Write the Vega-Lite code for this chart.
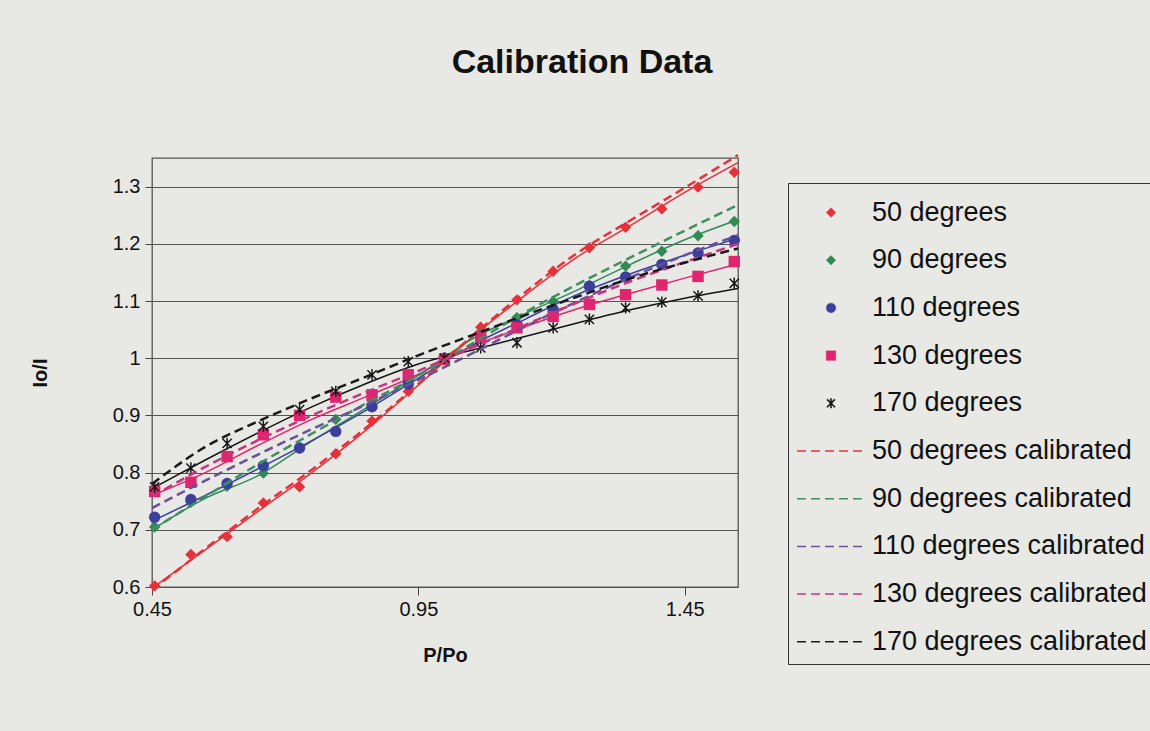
{
  "$schema": "https://vega.github.io/schema/vega-lite/v6.json",
  "width": 586,
  "height": 429,
  "autosize": {"type": "none"},
  "padding": {"left": 152, "top": 158, "right": 412, "bottom": 144},
  "background": "#e8e8e5",
  "title": {
    "text": "Calibration Data",
    "font": "Liberation Sans",
    "fontSize": 34,
    "fontWeight": "bold",
    "color": "#111111",
    "anchor": "middle",
    "dx": 137,
    "offset": 70
  },
  "config": {
    "view": {"stroke": "#555555", "strokeWidth": 1.3},
    "font": "Liberation Sans",
    "axis": {
      "labelFont": "Liberation Sans",
      "titleFont": "Liberation Sans",
      "labelColor": "#111111",
      "titleColor": "#111111",
      "labelFontSize": 20,
      "titleFontSize": 20,
      "titleFontWeight": "bold",
      "tickColor": "#444444",
      "domain": false
    },
    "legend": {
      "labelFont": "Liberation Sans",
      "labelFontSize": 27,
      "labelColor": "#111111",
      "titleFontSize": 2,
      "titlePadding": 5,
      "strokeColor": "#333333",
      "fillColor": "#e8e8e5",
      "padding": 9,
      "rowPadding": 19.7,
      "labelOffset": 7,
      "labelLimit": 600,
      "symbolStrokeWidth": 1.5
    }
  },
  "datasets": {
    "points": [
      {"series": "50 degrees", "P": 0.455, "IoI": 0.602},
      {"series": "50 degrees", "P": 0.523, "IoI": 0.657},
      {"series": "50 degrees", "P": 0.591, "IoI": 0.688},
      {"series": "50 degrees", "P": 0.659, "IoI": 0.747},
      {"series": "50 degrees", "P": 0.727, "IoI": 0.775},
      {"series": "50 degrees", "P": 0.795, "IoI": 0.833},
      {"series": "50 degrees", "P": 0.863, "IoI": 0.890},
      {"series": "50 degrees", "P": 0.931, "IoI": 0.942},
      {"series": "50 degrees", "P": 0.999, "IoI": 0.998},
      {"series": "50 degrees", "P": 1.067, "IoI": 1.054},
      {"series": "50 degrees", "P": 1.135, "IoI": 1.102},
      {"series": "50 degrees", "P": 1.203, "IoI": 1.152},
      {"series": "50 degrees", "P": 1.271, "IoI": 1.193},
      {"series": "50 degrees", "P": 1.339, "IoI": 1.229},
      {"series": "50 degrees", "P": 1.407, "IoI": 1.261},
      {"series": "50 degrees", "P": 1.475, "IoI": 1.299},
      {"series": "50 degrees", "P": 1.543, "IoI": 1.325},
      {"series": "90 degrees", "P": 0.455, "IoI": 0.705},
      {"series": "90 degrees", "P": 0.523, "IoI": 0.748},
      {"series": "90 degrees", "P": 0.591, "IoI": 0.776},
      {"series": "90 degrees", "P": 0.659, "IoI": 0.799},
      {"series": "90 degrees", "P": 0.727, "IoI": 0.843},
      {"series": "90 degrees", "P": 0.795, "IoI": 0.893},
      {"series": "90 degrees", "P": 0.863, "IoI": 0.925},
      {"series": "90 degrees", "P": 0.931, "IoI": 0.962},
      {"series": "90 degrees", "P": 0.999, "IoI": 1.0},
      {"series": "90 degrees", "P": 1.067, "IoI": 1.045},
      {"series": "90 degrees", "P": 1.135, "IoI": 1.071},
      {"series": "90 degrees", "P": 1.203, "IoI": 1.099},
      {"series": "90 degrees", "P": 1.271, "IoI": 1.127},
      {"series": "90 degrees", "P": 1.339, "IoI": 1.161},
      {"series": "90 degrees", "P": 1.407, "IoI": 1.187},
      {"series": "90 degrees", "P": 1.475, "IoI": 1.214},
      {"series": "90 degrees", "P": 1.543, "IoI": 1.239},
      {"series": "110 degrees", "P": 0.455, "IoI": 0.722},
      {"series": "110 degrees", "P": 0.523, "IoI": 0.753},
      {"series": "110 degrees", "P": 0.591, "IoI": 0.781},
      {"series": "110 degrees", "P": 0.659, "IoI": 0.812},
      {"series": "110 degrees", "P": 0.727, "IoI": 0.843},
      {"series": "110 degrees", "P": 0.795, "IoI": 0.872},
      {"series": "110 degrees", "P": 0.863, "IoI": 0.915},
      {"series": "110 degrees", "P": 0.931, "IoI": 0.955},
      {"series": "110 degrees", "P": 0.999, "IoI": 1.0},
      {"series": "110 degrees", "P": 1.067, "IoI": 1.038},
      {"series": "110 degrees", "P": 1.135, "IoI": 1.058},
      {"series": "110 degrees", "P": 1.203, "IoI": 1.085},
      {"series": "110 degrees", "P": 1.271, "IoI": 1.126},
      {"series": "110 degrees", "P": 1.339, "IoI": 1.142},
      {"series": "110 degrees", "P": 1.407, "IoI": 1.164},
      {"series": "110 degrees", "P": 1.475, "IoI": 1.184},
      {"series": "110 degrees", "P": 1.543, "IoI": 1.206},
      {"series": "130 degrees", "P": 0.455, "IoI": 0.767},
      {"series": "130 degrees", "P": 0.523, "IoI": 0.783},
      {"series": "130 degrees", "P": 0.591, "IoI": 0.828},
      {"series": "130 degrees", "P": 0.659, "IoI": 0.866},
      {"series": "130 degrees", "P": 0.727, "IoI": 0.900},
      {"series": "130 degrees", "P": 0.795, "IoI": 0.932},
      {"series": "130 degrees", "P": 0.863, "IoI": 0.936},
      {"series": "130 degrees", "P": 0.931, "IoI": 0.971},
      {"series": "130 degrees", "P": 0.999, "IoI": 0.998},
      {"series": "130 degrees", "P": 1.067, "IoI": 1.038},
      {"series": "130 degrees", "P": 1.135, "IoI": 1.053},
      {"series": "130 degrees", "P": 1.203, "IoI": 1.073},
      {"series": "130 degrees", "P": 1.271, "IoI": 1.094},
      {"series": "130 degrees", "P": 1.339, "IoI": 1.111},
      {"series": "130 degrees", "P": 1.407, "IoI": 1.128},
      {"series": "130 degrees", "P": 1.475, "IoI": 1.143},
      {"series": "130 degrees", "P": 1.543, "IoI": 1.169},
      {"series": "170 degrees", "P": 0.455, "IoI": 0.775},
      {"series": "170 degrees", "P": 0.523, "IoI": 0.808},
      {"series": "170 degrees", "P": 0.591, "IoI": 0.851},
      {"series": "170 degrees", "P": 0.659, "IoI": 0.881},
      {"series": "170 degrees", "P": 0.727, "IoI": 0.910},
      {"series": "170 degrees", "P": 0.795, "IoI": 0.942},
      {"series": "170 degrees", "P": 0.863, "IoI": 0.971},
      {"series": "170 degrees", "P": 0.931, "IoI": 0.994},
      {"series": "170 degrees", "P": 0.999, "IoI": 1.0},
      {"series": "170 degrees", "P": 1.067, "IoI": 1.018},
      {"series": "170 degrees", "P": 1.135, "IoI": 1.027},
      {"series": "170 degrees", "P": 1.203, "IoI": 1.053},
      {"series": "170 degrees", "P": 1.271, "IoI": 1.068},
      {"series": "170 degrees", "P": 1.339, "IoI": 1.088},
      {"series": "170 degrees", "P": 1.407, "IoI": 1.098},
      {"series": "170 degrees", "P": 1.475, "IoI": 1.109},
      {"series": "170 degrees", "P": 1.543, "IoI": 1.131}
    ],
    "fits": [
      {"series": "50 degrees", "P": 0.45, "IoI": 0.598},
      {"series": "50 degrees", "P": 0.55, "IoI": 0.665},
      {"series": "50 degrees", "P": 0.65, "IoI": 0.733},
      {"series": "50 degrees", "P": 0.75, "IoI": 0.800},
      {"series": "50 degrees", "P": 0.85, "IoI": 0.873},
      {"series": "50 degrees", "P": 0.95, "IoI": 0.953},
      {"series": "50 degrees", "P": 1.05, "IoI": 1.036},
      {"series": "50 degrees", "P": 1.15, "IoI": 1.110},
      {"series": "50 degrees", "P": 1.25, "IoI": 1.178},
      {"series": "50 degrees", "P": 1.35, "IoI": 1.233},
      {"series": "50 degrees", "P": 1.45, "IoI": 1.290},
      {"series": "50 degrees", "P": 1.55, "IoI": 1.342},
      {"series": "90 degrees", "P": 0.45, "IoI": 0.700},
      {"series": "90 degrees", "P": 0.55, "IoI": 0.755},
      {"series": "90 degrees", "P": 0.65, "IoI": 0.795},
      {"series": "90 degrees", "P": 0.75, "IoI": 0.855},
      {"series": "90 degrees", "P": 0.85, "IoI": 0.912},
      {"series": "90 degrees", "P": 0.95, "IoI": 0.970},
      {"series": "90 degrees", "P": 1.05, "IoI": 1.033},
      {"series": "90 degrees", "P": 1.15, "IoI": 1.078},
      {"series": "90 degrees", "P": 1.25, "IoI": 1.120},
      {"series": "90 degrees", "P": 1.35, "IoI": 1.165},
      {"series": "90 degrees", "P": 1.45, "IoI": 1.207},
      {"series": "90 degrees", "P": 1.55, "IoI": 1.242},
      {"series": "110 degrees", "P": 0.45, "IoI": 0.715},
      {"series": "110 degrees", "P": 0.55, "IoI": 0.760},
      {"series": "110 degrees", "P": 0.65, "IoI": 0.807},
      {"series": "110 degrees", "P": 0.75, "IoI": 0.856},
      {"series": "110 degrees", "P": 0.85, "IoI": 0.908},
      {"series": "110 degrees", "P": 0.95, "IoI": 0.965},
      {"series": "110 degrees", "P": 1.05, "IoI": 1.022},
      {"series": "110 degrees", "P": 1.15, "IoI": 1.068},
      {"series": "110 degrees", "P": 1.25, "IoI": 1.112},
      {"series": "110 degrees", "P": 1.35, "IoI": 1.148},
      {"series": "110 degrees", "P": 1.45, "IoI": 1.180},
      {"series": "110 degrees", "P": 1.55, "IoI": 1.210},
      {"series": "130 degrees", "P": 0.45, "IoI": 0.760},
      {"series": "130 degrees", "P": 0.55, "IoI": 0.800},
      {"series": "130 degrees", "P": 0.65, "IoI": 0.848},
      {"series": "130 degrees", "P": 0.75, "IoI": 0.893},
      {"series": "130 degrees", "P": 0.85, "IoI": 0.932},
      {"series": "130 degrees", "P": 0.95, "IoI": 0.972},
      {"series": "130 degrees", "P": 1.05, "IoI": 1.020},
      {"series": "130 degrees", "P": 1.15, "IoI": 1.055},
      {"series": "130 degrees", "P": 1.25, "IoI": 1.087},
      {"series": "130 degrees", "P": 1.35, "IoI": 1.114},
      {"series": "130 degrees", "P": 1.45, "IoI": 1.140},
      {"series": "130 degrees", "P": 1.55, "IoI": 1.165},
      {"series": "170 degrees", "P": 0.45, "IoI": 0.772},
      {"series": "170 degrees", "P": 0.55, "IoI": 0.822},
      {"series": "170 degrees", "P": 0.65, "IoI": 0.870},
      {"series": "170 degrees", "P": 0.75, "IoI": 0.915},
      {"series": "170 degrees", "P": 0.85, "IoI": 0.955},
      {"series": "170 degrees", "P": 0.95, "IoI": 0.990},
      {"series": "170 degrees", "P": 1.05, "IoI": 1.014},
      {"series": "170 degrees", "P": 1.15, "IoI": 1.038},
      {"series": "170 degrees", "P": 1.25, "IoI": 1.062},
      {"series": "170 degrees", "P": 1.35, "IoI": 1.085},
      {"series": "170 degrees", "P": 1.45, "IoI": 1.105},
      {"series": "170 degrees", "P": 1.55, "IoI": 1.122}
    ],
    "calibrated": [
      {"series": "50 degrees calibrated", "P": 0.45, "IoI": 0.595},
      {"series": "50 degrees calibrated", "P": 0.55, "IoI": 0.667},
      {"series": "50 degrees calibrated", "P": 0.65, "IoI": 0.738},
      {"series": "50 degrees calibrated", "P": 0.75, "IoI": 0.805},
      {"series": "50 degrees calibrated", "P": 0.85, "IoI": 0.877},
      {"series": "50 degrees calibrated", "P": 0.95, "IoI": 0.955},
      {"series": "50 degrees calibrated", "P": 1.05, "IoI": 1.038},
      {"series": "50 degrees calibrated", "P": 1.15, "IoI": 1.115},
      {"series": "50 degrees calibrated", "P": 1.25, "IoI": 1.185},
      {"series": "50 degrees calibrated", "P": 1.35, "IoI": 1.242},
      {"series": "50 degrees calibrated", "P": 1.45, "IoI": 1.298},
      {"series": "50 degrees calibrated", "P": 1.55, "IoI": 1.355},
      {"series": "90 degrees calibrated", "P": 0.45, "IoI": 0.700},
      {"series": "90 degrees calibrated", "P": 0.55, "IoI": 0.758},
      {"series": "90 degrees calibrated", "P": 0.65, "IoI": 0.815},
      {"series": "90 degrees calibrated", "P": 0.75, "IoI": 0.868},
      {"series": "90 degrees calibrated", "P": 0.85, "IoI": 0.920},
      {"series": "90 degrees calibrated", "P": 0.95, "IoI": 0.970},
      {"series": "90 degrees calibrated", "P": 1.05, "IoI": 1.025},
      {"series": "90 degrees calibrated", "P": 1.15, "IoI": 1.080},
      {"series": "90 degrees calibrated", "P": 1.25, "IoI": 1.130},
      {"series": "90 degrees calibrated", "P": 1.35, "IoI": 1.177},
      {"series": "90 degrees calibrated", "P": 1.45, "IoI": 1.223},
      {"series": "90 degrees calibrated", "P": 1.55, "IoI": 1.268},
      {"series": "110 degrees calibrated", "P": 0.45, "IoI": 0.738},
      {"series": "110 degrees calibrated", "P": 0.55, "IoI": 0.786},
      {"series": "110 degrees calibrated", "P": 0.65, "IoI": 0.832},
      {"series": "110 degrees calibrated", "P": 0.75, "IoI": 0.876},
      {"series": "110 degrees calibrated", "P": 0.85, "IoI": 0.918},
      {"series": "110 degrees calibrated", "P": 0.95, "IoI": 0.962},
      {"series": "110 degrees calibrated", "P": 1.05, "IoI": 1.008},
      {"series": "110 degrees calibrated", "P": 1.15, "IoI": 1.055},
      {"series": "110 degrees calibrated", "P": 1.25, "IoI": 1.100},
      {"series": "110 degrees calibrated", "P": 1.35, "IoI": 1.142},
      {"series": "110 degrees calibrated", "P": 1.45, "IoI": 1.180},
      {"series": "110 degrees calibrated", "P": 1.55, "IoI": 1.215},
      {"series": "130 degrees calibrated", "P": 0.45, "IoI": 0.758},
      {"series": "130 degrees calibrated", "P": 0.55, "IoI": 0.810},
      {"series": "130 degrees calibrated", "P": 0.65, "IoI": 0.857},
      {"series": "130 degrees calibrated", "P": 0.75, "IoI": 0.900},
      {"series": "130 degrees calibrated", "P": 0.85, "IoI": 0.940},
      {"series": "130 degrees calibrated", "P": 0.95, "IoI": 0.978},
      {"series": "130 degrees calibrated", "P": 1.05, "IoI": 1.018},
      {"series": "130 degrees calibrated", "P": 1.15, "IoI": 1.058},
      {"series": "130 degrees calibrated", "P": 1.25, "IoI": 1.098},
      {"series": "130 degrees calibrated", "P": 1.35, "IoI": 1.135},
      {"series": "130 degrees calibrated", "P": 1.45, "IoI": 1.168},
      {"series": "130 degrees calibrated", "P": 1.55, "IoI": 1.200},
      {"series": "170 degrees calibrated", "P": 0.45, "IoI": 0.780},
      {"series": "170 degrees calibrated", "P": 0.55, "IoI": 0.845},
      {"series": "170 degrees calibrated", "P": 0.65, "IoI": 0.890},
      {"series": "170 degrees calibrated", "P": 0.75, "IoI": 0.930},
      {"series": "170 degrees calibrated", "P": 0.85, "IoI": 0.967},
      {"series": "170 degrees calibrated", "P": 0.95, "IoI": 1.005},
      {"series": "170 degrees calibrated", "P": 1.05, "IoI": 1.040},
      {"series": "170 degrees calibrated", "P": 1.15, "IoI": 1.075},
      {"series": "170 degrees calibrated", "P": 1.25, "IoI": 1.108},
      {"series": "170 degrees calibrated", "P": 1.35, "IoI": 1.140},
      {"series": "170 degrees calibrated", "P": 1.45, "IoI": 1.167},
      {"series": "170 degrees calibrated", "P": 1.55, "IoI": 1.192}
    ]
  },
  "encoding": {
    "x": {
      "field": "P",
      "type": "quantitative",
      "scale": {"domain": [0.45, 1.55], "nice": false, "zero": false},
      "axis": {
        "title": "P/Po",
        "values": [0.45, 0.95, 1.45],
        "format": ".2f",
        "grid": false,
        "labelFlush": false,
        "labelDx": 4,
        "tickSize": 8,
        "labelPadding": 4,
        "titlePadding": 26
      }
    },
    "y": {
      "field": "IoI",
      "type": "quantitative",
      "scale": {"domain": [0.6, 1.35], "nice": false, "zero": false},
      "axis": {
        "title": "Io/I",
        "values": [0.6, 0.7, 0.8, 0.9, 1.0, 1.1, 1.2, 1.3],
        "format": ".2~f",
        "grid": true,
        "gridColor": "#555555",
        "gridWidth": 1.2,
        "gridOpacity": 1,
        "tickSize": 7,
        "labelPadding": 5,
        "titlePadding": 62
      }
    }
  },
  "layer": [
    {
      "data": {"name": "fits"},
      "mark": {"type": "line", "strokeWidth": 1.5, "interpolate": "monotone"},
      "encoding": {
        "color": {
          "field": "series",
          "type": "nominal",
          "scale": {
            "domain": ["50 degrees", "90 degrees", "110 degrees", "130 degrees", "170 degrees", "50 degrees calibrated", "90 degrees calibrated", "110 degrees calibrated", "130 degrees calibrated", "170 degrees calibrated"],
            "range": ["#e8303a", "#2f8a55", "#3a3f9c", "#e0246e", "#151515", "#e8303a", "#3f9060", "#6a4f9a", "#c8357f", "#1a1a1a"]
          },
          "legend": {
            "orient": "none", "legendX": 636, "legendY": 25, "title": " ",
            "encode": {
              "symbols": {"update": {
                "x": {"value": 34},
                "fill": {"scale": "color", "field": "value"},
                "stroke": {"scale": "color", "field": "value"},
                "size": {"signal": "test(/calibrated/, datum.value) ? 4624 : 90"},
                "strokeWidth": {"signal": "test(/calibrated/, datum.value) ? 1.5 : 0.5"}
              }},
              "labels": {"update": {"x": {"value": 75}}}
            }
          }
        }
      }
    },
    {
      "data": {"name": "points"},
      "mark": {"type": "point", "filled": true, "size": 130, "opacity": 1},
      "encoding": {
        "color": {
          "field": "series",
          "type": "nominal",
          "legend": {
            "orient": "none", "legendX": 636, "legendY": 25, "title": " ",
            "encode": {
              "symbols": {"update": {
                "x": {"value": 34},
                "fill": {"scale": "color", "field": "value"},
                "stroke": {"scale": "color", "field": "value"},
                "size": {"signal": "test(/calibrated/, datum.value) ? 4624 : 90"},
                "strokeWidth": {"signal": "test(/calibrated/, datum.value) ? 1.5 : 0.5"}
              }},
              "labels": {"update": {"x": {"value": 75}}}
            }
          }
        },
        "shape": {
          "field": "series",
          "type": "nominal",
          "scale": {
            "domain": ["50 degrees", "90 degrees", "110 degrees", "130 degrees", "170 degrees", "50 degrees calibrated", "90 degrees calibrated", "110 degrees calibrated", "130 degrees calibrated", "170 degrees calibrated"],
            "range": ["diamond", "diamond", "circle", "square", "M-0.13,-1L0.13,-1L0.13,1L-0.13,1ZM-0.9,-0.72L-0.72,-0.9L0.9,0.72L0.72,0.9ZM0.72,-0.9L0.9,-0.72L-0.72,0.9L-0.9,0.72Z", "stroke", "stroke", "stroke", "stroke", "stroke"]
          },
          "legend": {
            "orient": "none", "legendX": 636, "legendY": 25, "title": " ",
            "encode": {
              "symbols": {"update": {
                "x": {"value": 34},
                "fill": {"scale": "color", "field": "value"},
                "stroke": {"scale": "color", "field": "value"},
                "size": {"signal": "test(/calibrated/, datum.value) ? 4624 : 90"},
                "strokeWidth": {"signal": "test(/calibrated/, datum.value) ? 1.5 : 0.5"}
              }},
              "labels": {"update": {"x": {"value": 75}}}
            }
          }
        }
      }
    },
    {
      "data": {"name": "calibrated"},
      "mark": {"type": "line", "strokeWidth": 2.5, "interpolate": "monotone"},
      "encoding": {
        "color": {
          "field": "series",
          "type": "nominal",
          "legend": {
            "orient": "none", "legendX": 636, "legendY": 25, "title": " ",
            "encode": {
              "symbols": {"update": {
                "x": {"value": 34},
                "fill": {"scale": "color", "field": "value"},
                "stroke": {"scale": "color", "field": "value"},
                "size": {"signal": "test(/calibrated/, datum.value) ? 4624 : 90"},
                "strokeWidth": {"signal": "test(/calibrated/, datum.value) ? 1.5 : 0.5"}
              }},
              "labels": {"update": {"x": {"value": 75}}}
            }
          }
        },
        "strokeDash": {
          "field": "series",
          "type": "nominal",
          "scale": {
            "domain": ["50 degrees", "90 degrees", "110 degrees", "130 degrees", "170 degrees", "50 degrees calibrated", "90 degrees calibrated", "110 degrees calibrated", "130 degrees calibrated", "170 degrees calibrated"],
            "range": [[1, 0], [1, 0], [1, 0], [1, 0], [1, 0], [9, 5], [9, 5], [9, 5], [9, 5], [9, 5]]
          },
          "legend": {
            "orient": "none", "legendX": 636, "legendY": 25, "title": " ",
            "encode": {
              "symbols": {"update": {
                "x": {"value": 34},
                "fill": {"scale": "color", "field": "value"},
                "stroke": {"scale": "color", "field": "value"},
                "size": {"signal": "test(/calibrated/, datum.value) ? 4624 : 90"},
                "strokeWidth": {"signal": "test(/calibrated/, datum.value) ? 1.5 : 0.5"}
              }},
              "labels": {"update": {"x": {"value": 75}}}
            }
          }
        }
      }
    }
  ]
}
